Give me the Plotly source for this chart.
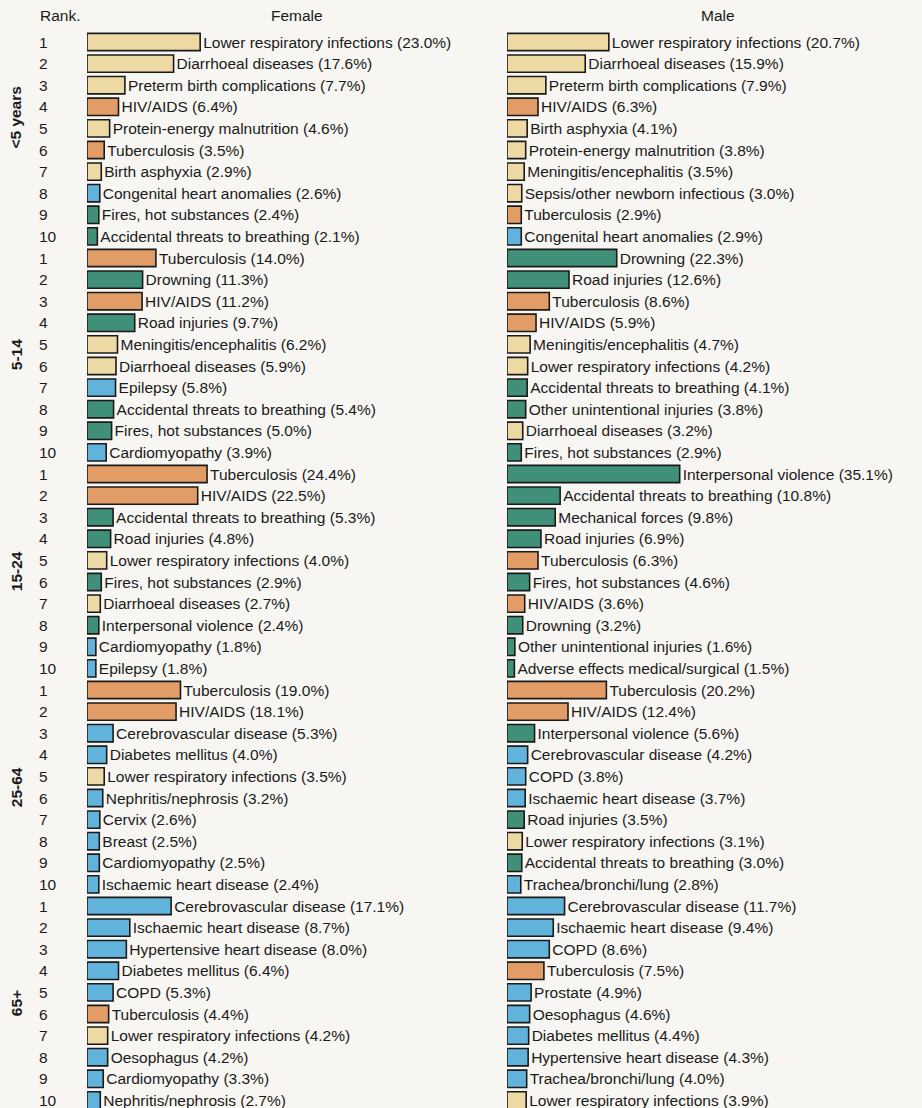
import plotly.graph_objects as go

age_groups = ["<5 years", "5-14", "15-24", "25-64", "65+"]
ranks = [1, 2, 3, 4, 5, 6, 7, 8, 9, 10]

# C = communicable/nutritional, H = HIV/TB, I = injuries, N = non-communicable
female_causes = [
    "Lower respiratory infections", "Diarrhoeal diseases", "Preterm birth complications", "HIV/AIDS",
    "Protein-energy malnutrition", "Tuberculosis", "Birth asphyxia", "Congenital heart anomalies",
    "Fires, hot substances", "Accidental threats to breathing",
    "Tuberculosis", "Drowning", "HIV/AIDS", "Road injuries", "Meningitis/encephalitis",
    "Diarrhoeal diseases", "Epilepsy", "Accidental threats to breathing", "Fires, hot substances", "Cardiomyopathy",
    "Tuberculosis", "HIV/AIDS", "Accidental threats to breathing", "Road injuries", "Lower respiratory infections",
    "Fires, hot substances", "Diarrhoeal diseases", "Interpersonal violence", "Cardiomyopathy", "Epilepsy",
    "Tuberculosis", "HIV/AIDS", "Cerebrovascular disease", "Diabetes mellitus", "Lower respiratory infections",
    "Nephritis/nephrosis", "Cervix", "Breast", "Cardiomyopathy", "Ischaemic heart disease",
    "Cerebrovascular disease", "Ischaemic heart disease", "Hypertensive heart disease", "Diabetes mellitus", "COPD",
    "Tuberculosis", "Lower respiratory infections", "Oesophagus", "Cardiomyopathy", "Nephritis/nephrosis",
]
female_values = [
    23.0, 17.6, 7.7, 6.4, 4.6, 3.5, 2.9, 2.6, 2.4, 2.1,
    14.0, 11.3, 11.2, 9.7, 6.2, 5.9, 5.8, 5.4, 5.0, 3.9,
    24.4, 22.5, 5.3, 4.8, 4.0, 2.9, 2.7, 2.4, 1.8, 1.8,
    19.0, 18.1, 5.3, 4.0, 3.5, 3.2, 2.6, 2.5, 2.5, 2.4,
    17.1, 8.7, 8.0, 6.4, 5.3, 4.4, 4.2, 4.2, 3.3, 2.7,
]
female_groups = [
    "C", "C", "C", "H", "C", "H", "C", "N", "I", "I",
    "H", "I", "H", "I", "C", "C", "N", "I", "I", "N",
    "H", "H", "I", "I", "C", "I", "C", "I", "N", "N",
    "H", "H", "N", "N", "C", "N", "N", "N", "N", "N",
    "N", "N", "N", "N", "N", "H", "C", "N", "N", "N",
]

male_causes = [
    "Lower respiratory infections", "Diarrhoeal diseases", "Preterm birth complications", "HIV/AIDS",
    "Birth asphyxia", "Protein-energy malnutrition", "Meningitis/encephalitis", "Sepsis/other newborn infectious",
    "Tuberculosis", "Congenital heart anomalies",
    "Drowning", "Road injuries", "Tuberculosis", "HIV/AIDS", "Meningitis/encephalitis",
    "Lower respiratory infections", "Accidental threats to breathing", "Other unintentional injuries",
    "Diarrhoeal diseases", "Fires, hot substances",
    "Interpersonal violence", "Accidental threats to breathing", "Mechanical forces", "Road injuries", "Tuberculosis",
    "Fires, hot substances", "HIV/AIDS", "Drowning", "Other unintentional injuries", "Adverse effects medical/surgical",
    "Tuberculosis", "HIV/AIDS", "Interpersonal violence", "Cerebrovascular disease", "COPD",
    "Ischaemic heart disease", "Road injuries", "Lower respiratory infections", "Accidental threats to breathing",
    "Trachea/bronchi/lung",
    "Cerebrovascular disease", "Ischaemic heart disease", "COPD", "Tuberculosis", "Prostate",
    "Oesophagus", "Diabetes mellitus", "Hypertensive heart disease", "Trachea/bronchi/lung",
    "Lower respiratory infections",
]
male_values = [
    20.7, 15.9, 7.9, 6.3, 4.1, 3.8, 3.5, 3.0, 2.9, 2.9,
    22.3, 12.6, 8.6, 5.9, 4.7, 4.2, 4.1, 3.8, 3.2, 2.9,
    35.1, 10.8, 9.8, 6.9, 6.3, 4.6, 3.6, 3.2, 1.6, 1.5,
    20.2, 12.4, 5.6, 4.2, 3.8, 3.7, 3.5, 3.1, 3.0, 2.8,
    11.7, 9.4, 8.6, 7.5, 4.9, 4.6, 4.4, 4.3, 4.0, 3.9,
]
male_groups = [
    "C", "C", "C", "H", "C", "C", "C", "C", "H", "N",
    "I", "I", "H", "H", "C", "C", "I", "I", "C", "I",
    "I", "I", "I", "I", "H", "I", "H", "I", "I", "I",
    "H", "H", "I", "N", "N", "N", "I", "C", "I", "N",
    "N", "N", "N", "H", "N", "N", "N", "N", "N", "C",
]

group_colors = {"C": "#EDD9A4", "H": "#E29D66", "I": "#3F8F79", "N": "#62B3DC"}

W, H = 922, 1108
row_px = 21.6
row0_px = 42
px_per_pct = 4.92
f_left, f_right = 87, 462
m_left, m_right = 507, 922

y_top = -row0_px / row_px
y_bottom = y_top + H / row_px

rows = list(range(len(female_values)))
font_family = "Liberation Sans, Arial, sans-serif"
txt_color = "#1a1a1a"
fsize = 15.5


def labels(causes, values):
    return [f"{c} ({v:.1f}%)" for c, v in zip(causes, values)]


fig = go.Figure()
for causes, values, groups, xa, ya in [
    (female_causes, female_values, female_groups, "x", "y"),
    (male_causes, male_values, male_groups, "x2", "y2"),
]:
    fig.add_trace(go.Bar(
        x=values, y=rows, orientation="h",
        marker=dict(color=[group_colors[g] for g in groups],
                    line=dict(color="#1a1a1a", width=1.6)),
        width=0.8,
        text=labels(causes, values), textposition="outside",
        textfont=dict(family=font_family, size=fsize, color=txt_color),
        constraintext="none", cliponaxis=False,
        xaxis=xa, yaxis=ya, showlegend=False, hoverinfo="skip",
    ))

annotations = []
# rank numbers
for i in rows:
    annotations.append(dict(
        x=37 / W, xref="paper", xanchor="left", y=i, yref="y",
        text=str(ranks[i % 10]), showarrow=False,
        font=dict(family=font_family, size=fsize, color=txt_color),
    ))
# age group labels
for g, name in enumerate(age_groups):
    yc = g * 10 + 4.5 if g > 0 else 3.5
    annotations.append(dict(
        x=16 / W, xref="paper", xanchor="center", y=yc, yref="y",
        text=f"<b>{name}</b>", textangle=-90, showarrow=False,
        font=dict(family=font_family, size=fsize, color=txt_color),
    ))
head_y = y_top + 15 / row_px
annotations.append(dict(x=38 / W, xref="paper", xanchor="left", y=head_y, yref="y",
                        text="Rank.", showarrow=False,
                        font=dict(family=font_family, size=fsize, color=txt_color)))
annotations.append(dict(x=297 / W, xref="paper", xanchor="center", y=head_y, yref="y",
                        text="Female", showarrow=False,
                        font=dict(family=font_family, size=fsize, color=txt_color)))
annotations.append(dict(x=718 / W, xref="paper", xanchor="center", y=head_y, yref="y",
                        text="Male", showarrow=False,
                        font=dict(family=font_family, size=fsize, color=txt_color)))

axis_common = dict(showgrid=False, zeroline=False, showticklabels=False, ticks="", showline=False)
fig.update_layout(
    width=W, height=H,
    margin=dict(l=0, r=0, t=0, b=0),
    paper_bgcolor="#F7F6F2", plot_bgcolor="rgba(0,0,0,0)",
    xaxis=dict(domain=[f_left / W, f_right / W], range=[0, (f_right - f_left) / px_per_pct], **axis_common),
    xaxis2=dict(domain=[m_left / W, m_right / W], range=[0, (m_right - m_left) / px_per_pct], **axis_common),
    yaxis=dict(domain=[0, 1], range=[y_bottom, y_top], **axis_common),
    yaxis2=dict(domain=[0, 1], range=[y_bottom, y_top], anchor="x2", **axis_common),
    annotations=annotations,
    bargap=0.2,
)

fig.write_html(
    "out.html",
    config={"displayModeBar": False},
    post_script="document.body.style.margin='0';document.body.style.background='#F7F6F2';",
)
